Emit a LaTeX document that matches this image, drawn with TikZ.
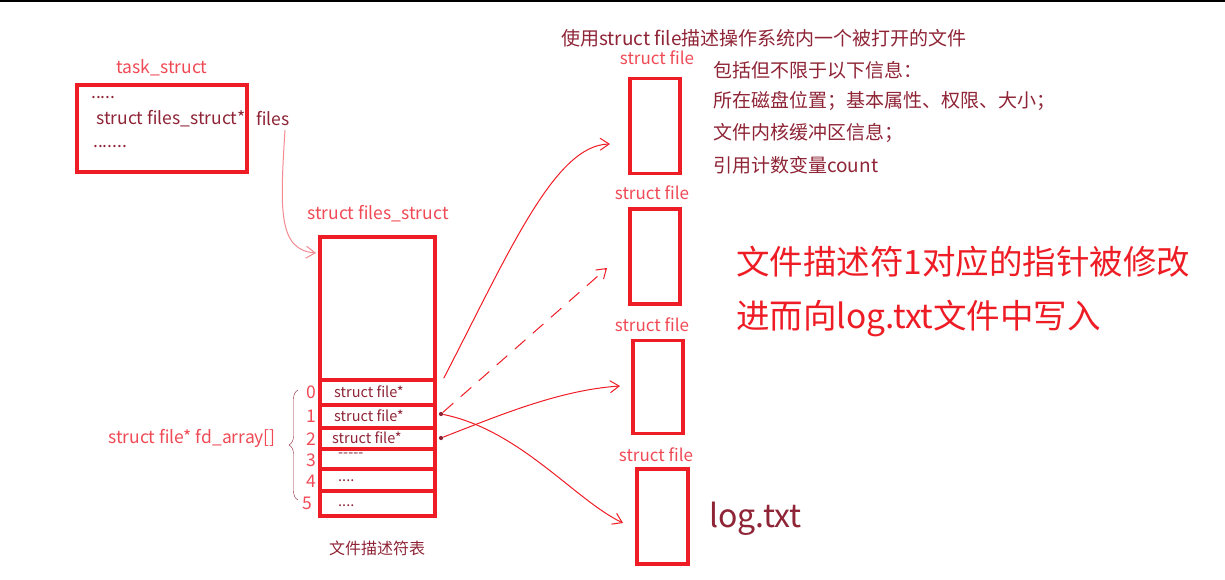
\documentclass[tikz,border=0pt]{standalone}
\usepackage{fontspec}
\setmainfont{Noto Sans CJK SC}
\usetikzlibrary{arrows.meta,decorations.pathreplacing}
\definecolor{boxred}{HTML}{EE1C25}
\definecolor{txtred}{HTML}{8E2436}
\definecolor{lblred}{HTML}{EF4A55}
\definecolor{pinkred}{HTML}{F28A90}
\tikzstyle{box} = [rectangle, draw=boxred, line width=3.5pt, inner sep=0pt]
\tikzstyle{slot} = [rectangle, draw=boxred, line width=3.5pt, minimum width=115pt, inner sep=0pt]
\tikzstyle{code} = [text=txtred, font=\fontsize{17.5}{20}\selectfont, inner sep=0pt]
\tikzstyle{cell} = [text=txtred, font=\fontsize{14.5}{17}\selectfont, inner sep=0pt, anchor=west]
\tikzstyle{lbl} = [text=lblred, font=\fontsize{17.5}{20}\selectfont, inner sep=0pt]
\tikzstyle{note} = [text=txtred, font=\fontsize{19}{22}\selectfont, inner sep=0pt, anchor=west]
\tikzstyle{arrow} = [boxred, line width=1pt, ->, >={Straight Barb[length=9pt,width=12pt]}]

\begin{document}
\begin{tikzpicture}[x=1pt,y=-1pt]
    \useasboundingbox (0,0) rectangle (1225,579);
    \draw[black, line width=1.5pt] (0,0.75) -- (1225,0.75);

    % task_struct
    \node (tasklbl) [lbl] at (162,68) {task\_struct};
    \node (task) [box, minimum width=170pt, minimum height=87pt] at (162,128.5) {};
    \node (dotsa) [code, anchor=west] at (91,98) {.....};
    \node (fsptr) [code, anchor=west] at (96,119) {struct files\_struct*};
    \node (files) [code, anchor=west] at (256,119) {files};
    \node (dotsb) [code, anchor=west] at (93,147) {.......};

    % files_struct
    \node (fslbl) [lbl] at (378,214) {struct files\_struct};
    \node (fsbox) [box, minimum width=115pt, minimum height=143pt] at (377.5,308.5) {};
    \node (row0) [slot, minimum height=25pt] at (377.5,392.5) {};
    \node (row1) [slot, minimum height=23pt] at (377.5,416.5) {};
    \node (row2) [slot, minimum height=21pt] at (377.5,438.5) {};
    \node (row3) [slot, minimum height=20pt] at (377.5,459) {};
    \node (row4) [slot, minimum height=22pt] at (377.5,480) {};
    \node (row5) [slot, minimum height=25pt] at (377.5,503.5) {};
    \node [cell] at (334,392) {struct file*};
    \node [cell] at (334,416) {struct file*};
    \node [cell] at (332,438) {struct file*};
    \node [cell] at (338,455) {-{}-{}-{}-{}-};
    \node [cell] at (338,481) {....};
    \node [cell] at (338,506) {....};
    \node (idx0) [lbl] at (311,392) {0};
    \node (idx1) [lbl] at (311,416) {1};
    \node (idx2) [lbl] at (311,439) {2};
    \node (idx3) [lbl] at (311,460) {3};
    \node (idx4) [lbl] at (311,481) {4};
    \node (idx5) [lbl] at (307,503) {5};
    \draw[txtred, thin, decorate, decoration={brace, amplitude=9pt}] (298,500) -- (298,390);
    \node (fdarr) [lbl, anchor=east] at (276,438) {struct file* fd\_array[]};
    \node (fdtbl) [code, font=\fontsize{16}{19}\selectfont] at (377,548) {文件描述符表};
    \node (dot1) [circle, fill=txtred, inner sep=1.5pt] at (441,414) {};
    \node (dot2) [circle, fill=txtred, inner sep=1.5pt] at (441,438) {};

    % struct file objects
    \node (title) [note, anchor=center] at (764,38) {使用struct file描述操作系统内一个被打开的文件};
    \node (sf1) [lbl, font=\fontsize{17}{20}\selectfont] at (657,58) {struct file};
    \node (file1) [box, minimum width=50pt, minimum height=95pt] at (655,126) {};
    \node (sf2) [lbl, font=\fontsize{17}{20}\selectfont] at (652,193) {struct file};
    \node (file2) [box, minimum width=50pt, minimum height=95pt] at (655,256.5) {};
    \node (sf3) [lbl, font=\fontsize{17}{20}\selectfont] at (652,325) {struct file};
    \node (file3) [box, minimum width=50pt, minimum height=93pt] at (658,387) {};
    \node (sf4) [lbl, font=\fontsize{17}{20}\selectfont] at (656,455) {struct file};
    \node (file4) [box, minimum width=51pt, minimum height=95pt] at (662.5,516.5) {};
    \node (info1) [note] at (713,70) {包括但不限于以下信息：};
    \node (info2) [note] at (713,101) {所在磁盘位置；基本属性、权限、大小；};
    \node (info3) [note] at (713,133) {文件内核缓冲区信息；};
    \node (info4) [note] at (713,165) {引用计数变量count};
    \node (logtxt) [note, font=\fontsize{32}{36}\selectfont] at (709,519) {log.txt};
    \node (remark1) [text=boxred, font=\fontsize{33.5}{38}\selectfont, inner sep=0pt, anchor=west] at (736,262) {文件描述符1对应的指针被修改};
    \node (remark2) [text=boxred, font=\fontsize{33.5}{38}\selectfont, inner sep=0pt, anchor=west] at (736,318) {进而向log.txt文件中写入};

    % pointers
    \coordinate (filesout) at (285,130);
    \coordinate (fsin) at (316,253);
    \coordinate (tip1) at (610,144);
    \coordinate (tip2) at (607,268);
    \coordinate (tip3) at (620,386);
    \coordinate (tip4) at (623,523);
    \draw[arrow, pinkred] (filesout) .. controls (280,210) and (278,250) .. (fsin);
    \draw[arrow] ([xshift=7pt]row0.north east) .. controls (510,250) and (555,145) .. (tip1);
    \draw[arrow, dashed, dash pattern=on 14pt off 10pt] (dot1) -- (tip2);
    \draw[arrow] (dot2) .. controls (500,415) and (560,390) .. (tip3);
    \draw[arrow] (dot1) .. controls (520,430) and (575,500) .. (tip4);
\end{tikzpicture}
\end{document}
